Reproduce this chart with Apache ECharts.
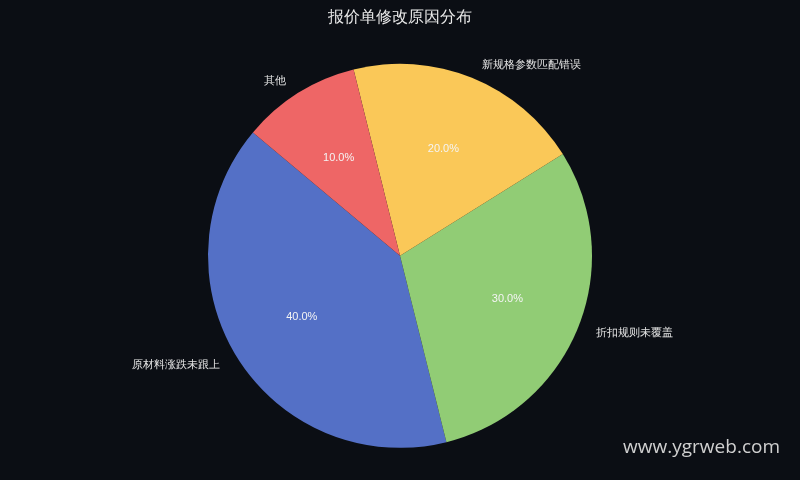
<!DOCTYPE html>
<html>
<head>
<meta charset="utf-8">
<script src="https://cdn.jsdelivr.net/npm/echarts@6/dist/echarts.min.js"></script>
<style>
html,body{margin:0;padding:0;background:#0b0e14;}
#c{width:800px;height:480px;}
</style>
</head>
<body>
<div id="c"></div>
<script>
const titleText = '报价单修改原因分布';
const categories = ['原材料涨跌未跟上', '折扣规则未覆盖', '新规格参数匹配错误', '其他'];
const values = [40, 30, 20, 10];
const colors = ['#5470c6', '#91cc75', '#fac858', '#ee6666'];
const watermark = 'www.ygrweb.com';

const data = categories.map((name, i) => ({ name, value: values[i], itemStyle: { color: colors[i] } }));

const chart = echarts.init(document.getElementById('c'));
chart.setOption({
  backgroundColor: '#0b0e14',
  animation: false,
  title: {
    text: titleText,
    left: 'center',
    top: 5,
    textStyle: { color: '#e8e8e8', fontSize: 16, fontWeight: 'normal' }
  },
  graphic: [{
    type: 'text',
    right: 20,
    top: 438,
    style: { text: watermark, fill: '#d0d0d0', font: '19px "Open Sans", sans-serif' }
  }],
  series: [
    {
      type: 'pie',
      radius: '80%',
      center: ['50%', '53.3%'],
      startAngle: 140,
      clockwise: false,
      data: data,
      label: { show: true, position: 'outside', formatter: '{b}', color: '#e6e6e6', fontSize: 11 },
      labelLine: { show: false, length: 14, length2: 0 },
      emphasis: { disabled: true }
    },
    {
      type: 'pie',
      radius: [0, '94%'],
      center: ['50%', '53.3%'],
      startAngle: 140,
      clockwise: false,
      silent: true,
      z: 3,
      data: categories.map((name, i) => ({ name, value: values[i], itemStyle: { color: 'rgba(0,0,0,0)' } })),
      label: {
        show: true, position: 'inside',
        formatter: p => p.value.toFixed(1) + '%',
        color: '#f4f4f4', fontSize: 11
      },
      labelLine: { show: false },
      emphasis: { disabled: true }
    }
  ]
});
</script>
</body>
</html>
